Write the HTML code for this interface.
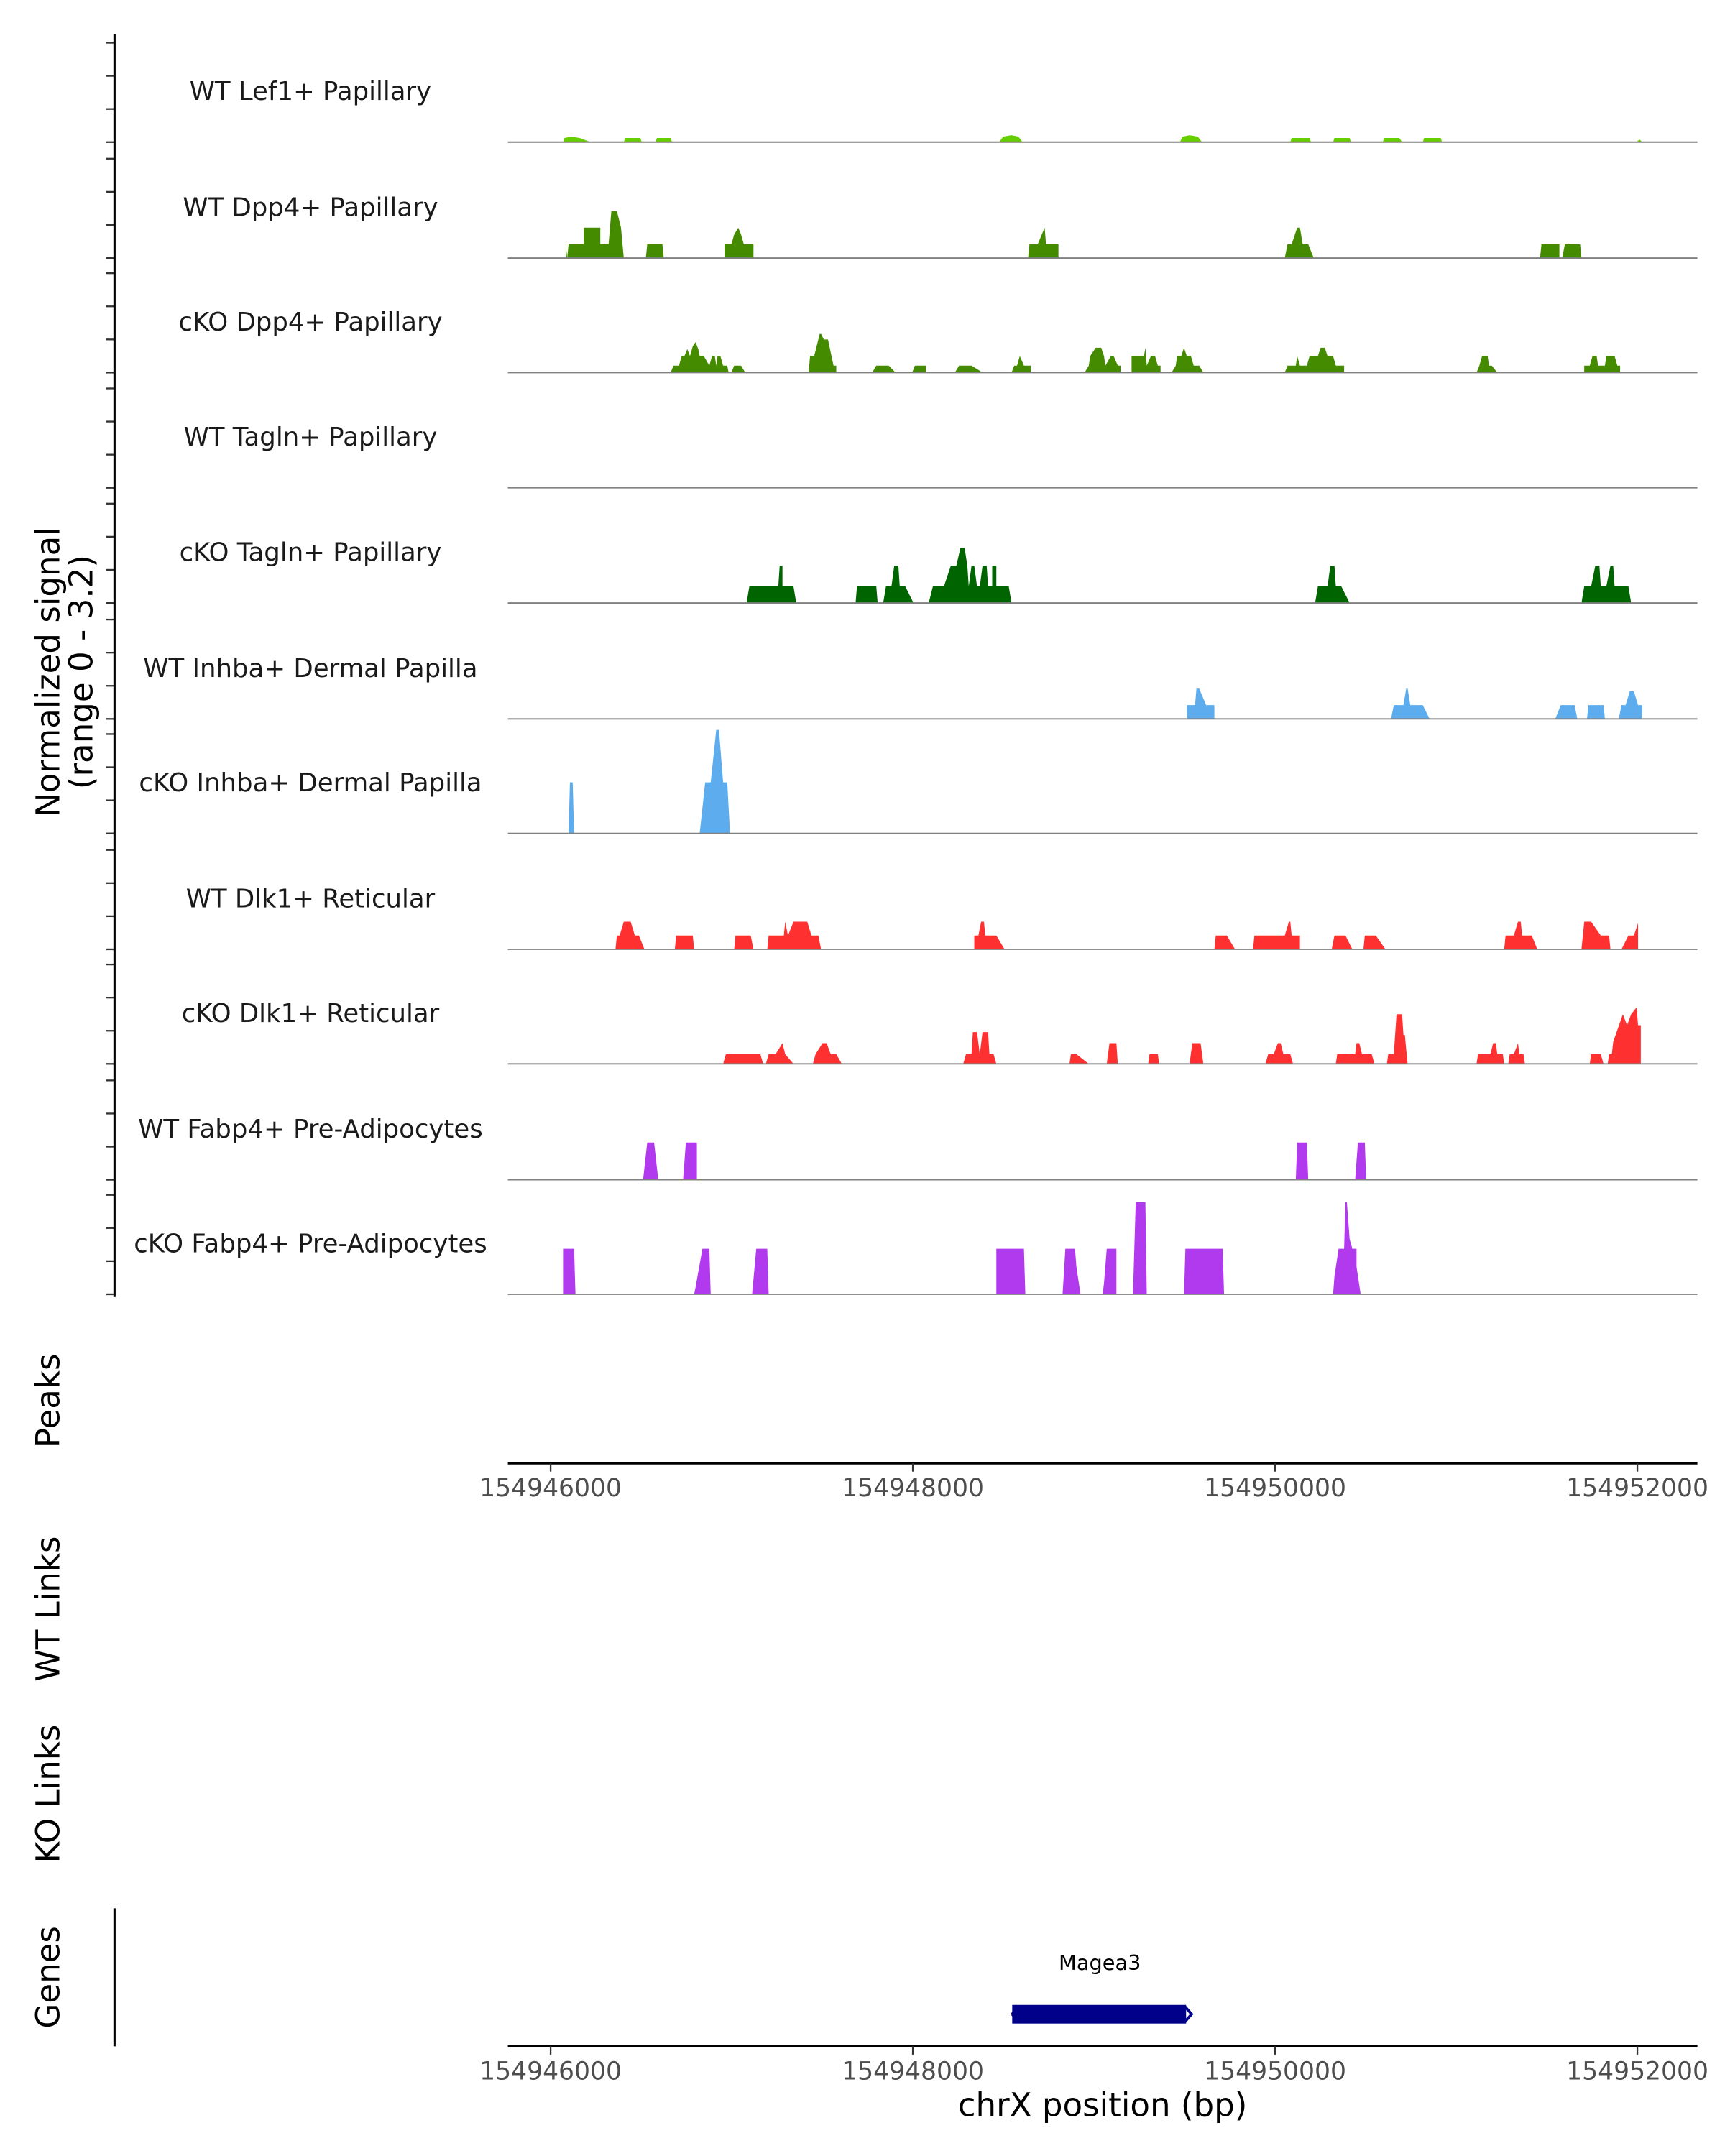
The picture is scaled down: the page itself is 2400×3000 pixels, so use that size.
<!DOCTYPE html>
<html><head><meta charset="utf-8"><style>html,body{margin:0;padding:0;background:#fff}svg{display:block}</style></head>
<body>
<svg id="s" xmlns="http://www.w3.org/2000/svg" width="2400" height="3000" viewBox="0 0 1250 1562.5" font-family="DejaVu Sans, Liberation Sans, sans-serif">
<rect width="1250" height="1562.5" fill="#fff"/>
<g id="g"></g>
<line x1="83" y1="25" x2="83" y2="940" stroke="#000" stroke-width="1.6"/>
<line x1="83" y1="1383" x2="83" y2="1483" stroke="#000" stroke-width="1.6"/>
<g font-size="23.5" fill="#000" text-anchor="middle">
<text transform="translate(43,487) rotate(-90)">Normalized signal</text>
<text transform="translate(67,487) rotate(-90)">(range 0 - 3.2)</text>
<text transform="translate(43,1015) rotate(-90)">Peaks</text>
<text transform="translate(43,1166) rotate(-90)">WT Links</text>
<text transform="translate(43,1300) rotate(-90)">KO Links</text>
<text transform="translate(43,1433) rotate(-90)">Genes</text>
</g>
<line x1="368" y1="1060.5" x2="1230" y2="1060.5" stroke="#000" stroke-width="1.6"/>
<line x1="368" y1="1483" x2="1230" y2="1483" stroke="#000" stroke-width="1.6"/>
<g stroke="#333" stroke-width="1.2">
<line x1="399" y1="1060.5" x2="399" y2="1066.5"/><line x1="661.5" y1="1060.5" x2="661.5" y2="1066.5"/><line x1="924" y1="1060.5" x2="924" y2="1066.5"/><line x1="1186.5" y1="1060.5" x2="1186.5" y2="1066.5"/>
<line x1="399" y1="1483" x2="399" y2="1489"/><line x1="661.5" y1="1483" x2="661.5" y2="1489"/><line x1="924" y1="1483" x2="924" y2="1489"/><line x1="1186.5" y1="1483" x2="1186.5" y2="1489"/>
</g>
<g font-size="18" fill="#4d4d4d" text-anchor="middle">
<text x="399" y="1084.5">154946000</text><text x="661.5" y="1084.5">154948000</text><text x="924" y="1084.5">154950000</text><text x="1186.5" y="1084.5">154952000</text>
<text x="399" y="1507">154946000</text><text x="661.5" y="1507">154948000</text><text x="924" y="1507">154950000</text><text x="1186.5" y="1507">154952000</text>
</g>
<text x="799" y="1533.5" font-size="23.5" text-anchor="middle">chrX position (bp)</text>
<text x="797" y="1427.5" font-size="15" text-anchor="middle">Magea3</text>
<rect x="733.5" y="1453" width="126" height="13.5" fill="#00008B"/>
<path d="M733.5 1459.7 l3 -4 M733.5 1459.7 l3 4 M858.5 1454 l5 5.7 l-5 5.7" stroke="#00008B" stroke-width="2" fill="none"/>
</svg>
<script>
const g=document.getElementById('g');const NS='http://www.w3.org/2000/svg';
function el(t,a,txt){const e=document.createElementNS(NS,t);for(const k in a)e.setAttribute(k,a[k]);if(txt)e.textContent=txt;g.appendChild(e);return e;}
const B=[103,187,270,353.5,437,521,604,688,771,855,938];
const labels=["WT Lef1+ Papillary","WT Dpp4+ Papillary","cKO Dpp4+ Papillary","WT Tagln+ Papillary","cKO Tagln+ Papillary","WT Inhba+ Dermal Papilla","cKO Inhba+ Dermal Papilla","WT Dlk1+ Reticular","cKO Dlk1+ Reticular","WT Fabp4+ Pre-Adipocytes","cKO Fabp4+ Pre-Adipocytes"];
const cols=["#66CD00","#458B00","#458B00","#458B00","#006400","#5CACEE","#5CACEE","#FF3030","#FF3030","#B23AEE","#B23AEE"];
const S=[
[[408,0,409,3,414,4,420,3,428,0],[452,0,453,3,464,3,465,0],[475,0,476,3,486,3,487,0],[724,0,727,4,733,5,738,4,741,0],[855,0,857,4,862,5,868,4,871,0],[935,0,936,3,949,3,950,0],[966,0,967,3,978,3,979,0],[1002,0,1003,3,1014,3,1016,0],[1031,0,1032,3,1044,3,1045,0],[1186,0,1188,2,1190,0]],
[[410,0,410,10,411,0,412,10,423,10,423,22,435,22,435,10,441,10,443,34,447,34,450,22,452,0],[468,0,469,10,480,10,481,0],[525,0,525,10,530,10,532,17,535,22,537,17,539,10,546,10,546,0],[745,0,746,10,752,10,757,22,758,10,767,10,767,0],[931,0,933,10,936,10,940,22,942,22,944,10,948,10,952,0],[1116,0,1117,10,1130,10,1130,0],[1132,0,1134,10,1145,10,1146,0]],
[[486,0,488,5,492,5,494,12,496,12,498,17,500,12,502,19,504,22,506,17,507,12,510,12,514,5,516,12,518,12,519,5,520,12,522,12,524,5,527,5,528,0],[530,0,532,5,537,5,540,0],[586,0,587,12,590,12,592,20,594,28,595,28,597,24,600,24,604,5,606,5,606,0],[632,0,635,5,644,5,649,0],[661,0,663,5,671,5,671,0],[692,0,695,5,704,5,712,0],[733,0,735,5,737,5,739,12,742,5,747,5,747,0],[786,0,789,5,790,12,794,18,798,18,800,12,801,5,805,12,807,12,810,5,812,5,812,0],[820,0,820,12,829,12,830,18,831,5,834,12,837,12,839,5,841,5,841,0],[849,0,852,5,853,12,856,12,858,18,860,12,863,12,865,5,869,5,872,0],[931,0,933,5,939,5,940,12,942,5,947,5,949,12,955,12,957,18,960,18,962,12,966,12,968,5,974,5,974,0],[1070,0,1072,5,1074,12,1078,12,1079,5,1081,5,1085,0],[1148,0,1148,5,1152,5,1154,12,1157,12,1158,5,1163,5,1164,12,1170,12,1172,5,1174,5,1174,0]],
[],
[[541,0,543,12,564,12,565,27,567,27,567,12,575,12,577,0],[620,0,621,12,635,12,636,0],[640,0,642,12,646,12,648,27,651,27,652,12,656,12,662,0],[673,0,676,12,684,12,689,27,693,27,696,40,699,40,701,27,702,12,704,27,706,27,708,12,710,12,712,27,715,27,716,12,719,12,719,27,722,27,722,12,731,12,733,0],[953,0,955,12,962,12,964,27,967,27,968,12,972,12,978,0],[1146,0,1148,12,1153,12,1156,27,1159,27,1160,12,1164,12,1167,27,1169,27,1170,12,1180,12,1182,0]],
[[860,0,860,10,866,10,867,22,869,22,874,10,880,10,880,0],[1008,0,1010,10,1017,10,1019,22,1020,22,1022,10,1031,10,1036,0],[1127,0,1131,10,1141,10,1143,0],[1150,0,1151,10,1162,10,1163,0],[1173,0,1175,10,1178,10,1181,20,1184,20,1187,10,1190,10,1190,0]],
[[412,0,413,37,415,37,416,0],[507,0,511,37,515,37,519,75,521,75,524,37,527,37,529,0]],
[[446,0,447,10,449,10,452,20,457,20,460,10,463,10,467,0],[489,0,490,10,502,10,503,0],[532,0,533,10,544,10,546,0],[556,0,557,10,568,10,569,20,571,10,575,20,585,20,588,10,593,10,595,0],[706,0,706,10,709,10,711,20,713,20,714,10,722,10,728,0],[880,0,881,10,889,10,895,0],[908,0,909,10,931,10,934,20,935,20,936,10,942,10,942,0],[965,0,967,10,975,10,980,0],[988,0,989,10,997,10,1004,0],[1090,0,1091,10,1097,10,1100,20,1102,20,1103,10,1110,10,1114,0],[1146,0,1148,20,1153,20,1160,10,1166,10,1167,0],[1175,0,1180,10,1184,10,1187,19,1187,0]],
[[524,0,526,7,551,7,553,0],[555,0,557,7,562,7,567,15,569,7,575,0],[589,0,591,7,596,15,599,15,602,7,606,7,610,0],[698,0,700,7,704,7,705,23,708,23,710,7,712,23,716,23,717,7,720,7,722,0],[775,0,776,7,780,7,789,0],[802,0,804,15,809,15,810,0],[832,0,833,7,839,7,840,0],[862,0,864,15,870,15,872,0],[917,0,919,7,923,7,926,15,928,15,930,7,935,7,937,0],[968,0,969,7,982,7,983,15,985,15,987,7,994,7,996,0],[1005,0,1006,7,1010,7,1012,36,1016,36,1017,21,1018,21,1020,0],[1070,0,1071,7,1080,7,1082,15,1084,15,1085,7,1089,7,1090,0],[1093,0,1094,7,1097,7,1100,15,1101,7,1104,7,1105,0],[1152,0,1153,7,1160,7,1162,0],[1165,0,1166,7,1168,7,1169,16,1176,36,1179,28,1182,36,1186,41,1187,28,1189,28,1189,0]],
[[466,0,469,27,474,27,477,0],[495,0,497,27,505,27,505,0],[939,0,940,27,947,27,948,0],[982,0,984,27,989,27,990,0]],
[[408,0,408,33,416,33,417,0],[503,0,504,5,509,33,514,33,515,0],[545,0,548,33,556,33,557,0],[722,0,722,33,742,33,743,0],[770,0,772,33,779,33,780,20,783,0],[799,0,800,8,802,33,809,33,809,0],[821,0,823,67,830,67,831,0],[858,0,859,33,886,33,887,0],[966,0,967,13,970,33,974,33,975,67,976,67,978,40,980,33,983,33,983,20,986,0]]
];
for(let i=0;i<11;i++){
  const b=B[i];
  el('text',{x:225,y:b-30.5,'font-size':'18.5','text-anchor':'middle',fill:'#1a1a1a'},labels[i]);
  for(const sh of S[i]){let pts=[];for(let j=0;j<sh.length;j+=2)pts.push(sh[j]+','+(b-sh[j+1]).toFixed(1));el('polygon',{points:pts.join(' '),fill:cols[i]});}
  el('line',{x1:368,y1:b,x2:1230,y2:b,stroke:'#808080','stroke-width':1});
  for(let k=0;k<4;k++){const y=b-k*24;el('line',{x1:77,y1:y,x2:83,y2:y,stroke:'#333','stroke-width':1.2});}
}
</script>
</body></html>
